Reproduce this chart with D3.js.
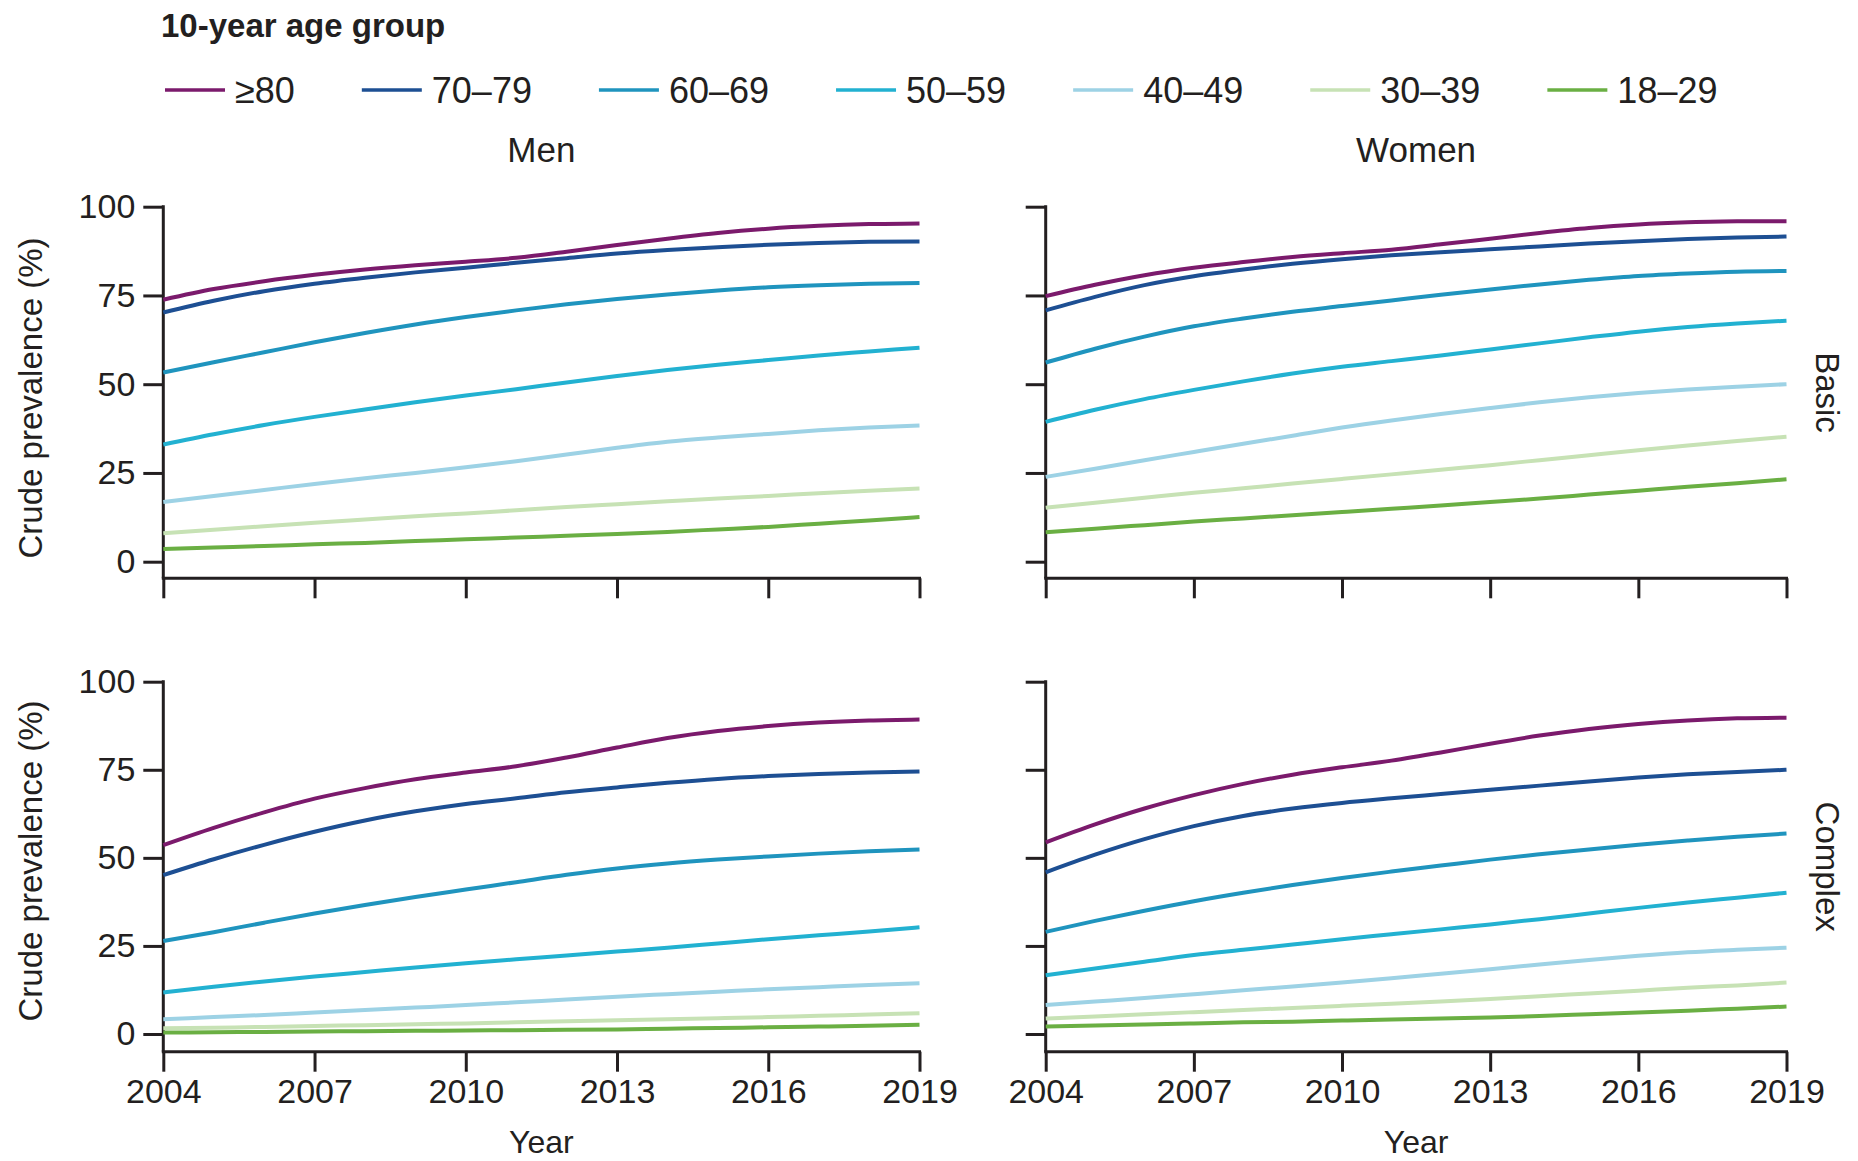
<!DOCTYPE html>
<html><head><meta charset="utf-8">
<script src="https://cdn.jsdelivr.net/npm/d3@7"></script>
<style>
body{margin:0;background:#fff}
svg{display:block}
text{font-family:"Liberation Sans",Arial,sans-serif;fill:#231f20}
</style>
</head><body>
<svg id="chart" width="1858" height="1161"></svg>
<script>
// ---------- data ----------
const years = [2004,2005,2006,2007,2008,2009,2010,2011,2012,2013,2014,2015,2016,2017,2018,2019];
const ageGroups = ["≥80","70–79","60–69","50–59","40–49","30–39","18–29"];
const groupColors = ["#7b1a6c","#1d4f93","#1f94be","#22b1d1","#9dd2e5","#c7e2b5","#6aaf43"];
const yTicks = [0,25,50,75,100];
const xTicks = [2004,2007,2010,2013,2016,2019];
const sexes = ["Men","Women"];
const types = ["Basic","Complex"];

const menBasic = [
  [73.8,76.8,79.0,80.8,82.3,83.5,84.5,85.6,87.3,89.2,91.0,92.6,93.8,94.6,95.1,95.3],
  [70.2,73.5,76.2,78.3,80.0,81.5,82.8,84.2,85.5,86.8,87.8,88.6,89.3,89.8,90.1,90.2],
  [53.3,56.2,59.0,61.8,64.4,66.8,68.9,70.8,72.5,74.0,75.3,76.4,77.3,77.9,78.3,78.5],
  [33.0,35.9,38.5,40.8,42.9,44.9,46.8,48.6,50.5,52.3,54.0,55.5,56.8,58.1,59.2,60.3],
  [16.8,18.5,20.2,21.9,23.5,25.0,26.6,28.3,30.2,32.1,33.8,35.0,36.0,37.0,37.8,38.4],
  [8.0,9.0,10.0,11.0,11.9,12.8,13.6,14.5,15.4,16.2,17.0,17.8,18.5,19.3,20.0,20.6],
  [3.6,4.0,4.4,4.9,5.3,5.8,6.3,6.8,7.3,7.8,8.4,9.1,9.8,10.7,11.6,12.6]
];
const womenBasic = [
  [74.8,78.0,80.7,82.8,84.4,85.8,86.9,87.9,89.4,91.0,92.6,94.0,95.0,95.6,95.9,95.9],
  [70.8,74.6,77.9,80.4,82.3,83.9,85.2,86.3,87.2,88.0,88.8,89.6,90.3,90.9,91.3,91.6],
  [56.1,60.0,63.4,66.3,68.5,70.4,72.0,73.6,75.2,76.7,78.1,79.4,80.5,81.2,81.7,81.9],
  [39.4,42.8,45.8,48.4,50.8,53.0,54.9,56.5,58.1,59.8,61.5,63.2,64.8,66.1,67.1,67.9],
  [23.9,26.2,28.6,30.9,33.2,35.5,37.8,39.8,41.6,43.3,44.9,46.3,47.5,48.5,49.3,50.0],
  [15.2,16.6,18.0,19.4,20.7,22.0,23.3,24.6,25.9,27.2,28.6,30.0,31.4,32.7,34.0,35.2],
  [8.3,9.3,10.3,11.3,12.2,13.1,14.0,14.9,15.8,16.8,17.8,18.9,20.0,21.1,22.1,23.2]
];
const menComplex = [
  [53.6,58.5,62.9,66.8,69.8,72.3,74.2,76.0,78.5,81.3,84.0,86.0,87.4,88.4,89.0,89.3],
  [45.1,49.6,53.7,57.4,60.6,63.2,65.3,66.9,68.6,70.0,71.3,72.4,73.2,73.8,74.2,74.5],
  [26.4,28.9,31.6,34.2,36.6,38.9,41.0,43.1,45.2,47.0,48.4,49.5,50.4,51.2,51.9,52.4],
  [11.8,13.4,14.9,16.3,17.6,18.9,20.1,21.2,22.3,23.4,24.5,25.7,26.9,28.0,29.1,30.3],
  [4.2,4.8,5.4,6.1,6.8,7.5,8.2,9.0,9.8,10.6,11.3,12.0,12.7,13.3,13.9,14.4],
  [1.6,1.8,2.0,2.3,2.5,2.8,3.0,3.3,3.6,3.9,4.2,4.5,4.8,5.2,5.5,5.9],
  [0.4,0.5,0.6,0.7,0.8,0.9,1.0,1.1,1.2,1.3,1.5,1.7,1.9,2.1,2.35,2.6]
];
const womenComplex = [
  [54.4,59.5,64.0,67.8,71.0,73.6,75.7,77.6,79.9,82.4,84.7,86.6,88.0,89.0,89.6,89.8],
  [45.9,50.9,55.3,59.0,61.9,64.0,65.6,66.9,68.1,69.3,70.5,71.7,72.8,73.7,74.4,75.0],
  [29.0,32.1,35.0,37.7,40.1,42.3,44.3,46.1,47.8,49.5,51.0,52.4,53.7,54.9,56.0,56.9],
  [16.7,18.6,20.5,22.4,23.9,25.4,26.9,28.3,29.7,31.1,32.6,34.2,35.8,37.3,38.7,40.1],
  [8.2,9.2,10.2,11.3,12.4,13.5,14.6,15.8,17.1,18.4,19.7,21.0,22.2,23.2,23.9,24.5],
  [4.4,5.0,5.6,6.2,6.8,7.4,8.0,8.6,9.2,9.9,10.7,11.5,12.3,13.1,13.8,14.6],
  [2.1,2.4,2.7,3.0,3.3,3.5,3.8,4.1,4.4,4.7,5.1,5.6,6.1,6.6,7.2,7.8]
];
const panelData = [[menBasic, womenBasic],[menComplex, womenComplex]];

// ---------- layout ----------
const ink = "#231f20";
const cols = [{x0:163.3, x1:919.5},{x0:1045.7, x1:1786.5}];
const rows = [{top:206.7, zero:561.7, axis:578.3, labelY:398},{top:681.7, zero:1034, axis:1051.7, labelY:861}];
const tickLen = 20;

const svg = d3.select("#chart");

// legend
svg.append("text").attr("x",161).attr("y",37)
  .style("font-size","33px").style("font-weight","bold").text("10-year age group");
let lx = 165;
ageGroups.forEach((g,i)=>{
  const gg = svg.append("g");
  gg.append("line").attr("x1",lx).attr("x2",lx+60).attr("y1",90).attr("y2",90)
    .attr("stroke",groupColors[i]).attr("stroke-width",3.5);
  const t = gg.append("text").attr("x",lx+70).attr("y",103).style("font-size","36px").text(g);
  lx = lx + 70 + t.node().getComputedTextLength() + 67;
});

// column titles
sexes.forEach((s,c)=>{
  svg.append("text").attr("x",(cols[c].x0+cols[c].x1)/2).attr("y",162)
    .attr("text-anchor","middle").style("font-size","35px").text(s);
});

rows.forEach((r,ri)=>{
  const y = d3.scaleLinear().domain([0,100]).range([r.zero, r.top]);
  cols.forEach((c,ci)=>{
    const x = d3.scaleLinear().domain([2004,2019]).range([c.x0, c.x1]);
    const g = svg.append("g");

    // y axis
    const ya = g.append("g").attr("transform",`translate(${c.x0},0)`)
      .call(d3.axisLeft(y).tickValues(yTicks).tickSize(tickLen).tickSizeOuter(0).tickPadding(8)
        .tickFormat(ci===0 ? d3.format("d") : ()=>""));
    ya.select(".domain").remove();
    ya.selectAll(".tick line").attr("stroke",ink).attr("stroke-width",3);
    ya.selectAll(".tick text").style("font-size","34px").attr("fill",ink)
      .style("font-family","'Liberation Sans',Arial,sans-serif");
    g.append("line").attr("x1",c.x0).attr("x2",c.x0).attr("y1",r.top-1.5).attr("y2",r.axis)
      .attr("stroke",ink).attr("stroke-width",3);

    // x axis
    const xa = g.append("g").attr("transform",`translate(0,${r.axis})`)
      .call(d3.axisBottom(x).tickValues(xTicks).tickSize(tickLen).tickSizeOuter(0).tickPadding(7)
        .tickFormat(ri===1 ? d3.format("d") : ()=>""));
    xa.select(".domain").remove();
    xa.selectAll(".tick line").attr("stroke",ink).attr("stroke-width",3);
    xa.selectAll(".tick text").style("font-size","34px").attr("fill",ink)
      .style("font-family","'Liberation Sans',Arial,sans-serif");
    g.append("line").attr("x1",c.x0-1.5).attr("x2",c.x1+1.5).attr("y1",r.axis).attr("y2",r.axis)
      .attr("stroke",ink).attr("stroke-width",3);

    // series
    const line = d3.line().x((d,i)=>x(years[i])).y(d=>y(d)).curve(d3.curveMonotoneX);
    const series = panelData[ri][ci];
    series.slice().reverse().forEach((vals,k)=>{
      const idx = series.length-1-k;
      g.append("path").attr("d",line(vals)).attr("fill","none")
        .attr("stroke",groupColors[idx]).attr("stroke-width",4)
        .attr("stroke-linecap","butt").attr("stroke-linejoin","round");
    });

    if (ri===1){
      g.append("text").attr("x",(c.x0+c.x1)/2).attr("y",1153)
        .attr("text-anchor","middle").style("font-size","32px").text("Year");
    }
  });

  const mid = (r.top + r.axis)/2;
  svg.append("text").attr("transform",`translate(42,${r.labelY}) rotate(-90)`)
    .attr("text-anchor","middle").style("font-size","33px").text("Crude prevalence (%)");
  svg.append("text").attr("transform",`translate(1816,${mid}) rotate(90)`)
    .attr("text-anchor","middle").style("font-size","33px").text(types[ri]);
});
</script>
</body></html>
